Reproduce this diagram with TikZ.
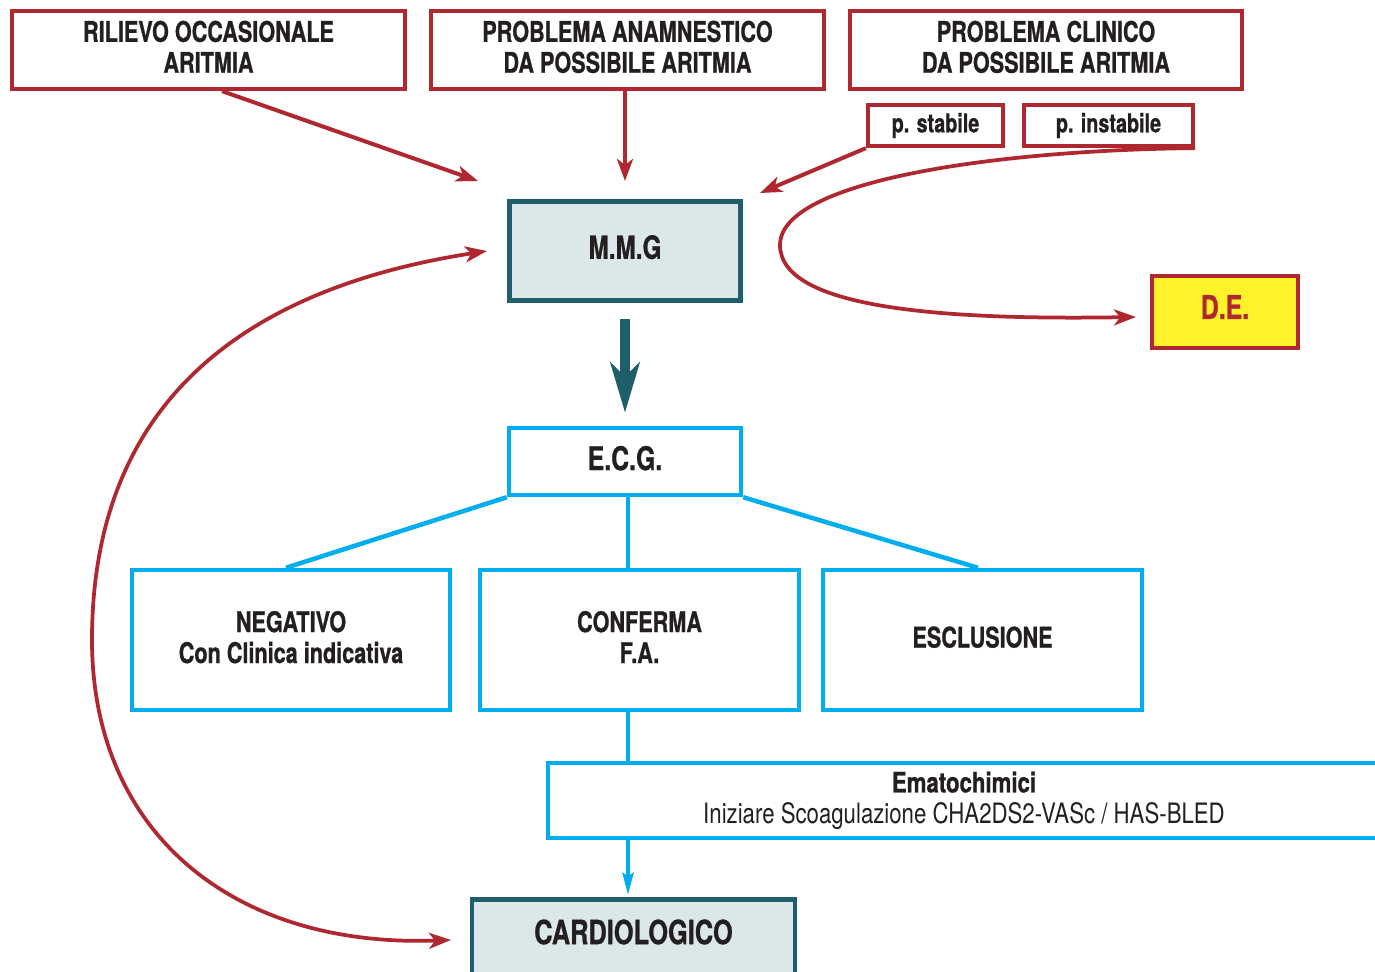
\documentclass[tikz,border=0pt]{standalone}
\usepackage{fontspec}
\setmainfont{TeX Gyre Heros}[FakeStretch=0.76, BoldFeatures={FakeBold=0.8}]
\newfontfamily\widefont{TeX Gyre Heros}[FakeStretch=0.79, BoldFeatures={FakeBold=0.8}]
\usetikzlibrary{arrows.meta}
\definecolor{myred}{RGB}{176,40,47}
\definecolor{myteal}{RGB}{31,95,107}
\definecolor{mmgfill}{RGB}{220,231,233}
\definecolor{mycyan}{RGB}{0,174,239}
\definecolor{myyellow}{RGB}{255,242,43}
\definecolor{txt}{RGB}{35,31,32}
\begin{document}
\begin{tikzpicture}[x=0.02cm,y=-0.02cm,
  redbox/.style={draw=myred, line width=0.085cm, fill=white, text=txt, align=center, inner sep=0pt,
    font=\bfseries\fontsize{16.2}{17.6}\selectfont},
  smallred/.style={redbox, font=\bfseries\fontsize{14.8}{16}\selectfont, minimum height=0.82cm},
  tealbox/.style={draw=myteal, line width=0.09cm, fill=mmgfill, text=txt, align=center, inner sep=0pt,
    font=\bfseries\fontsize{18.2}{20}\selectfont},
  cyanbox/.style={draw=mycyan, line width=0.09cm, fill=white, text=txt, align=center, inner sep=0pt,
    font=\bfseries\fontsize{16.2}{17.6}\selectfont},
  redarrow/.style={draw=myred, line width=0.08cm, -{Stealth[length=0.44cm,width=0.32cm,inset=0.12cm]}},
  redcurve/.style={draw=myred, line width=0.075cm},
  cyanline/.style={draw=mycyan, line width=0.09cm}
]
\useasboundingbox (0,0) rectangle (1375,972);

% top boxes
\node[redbox, minimum width=7.86cm, minimum height=1.56cm, text depth=0.13cm] (ril) at (208.5,50) {RILIEVO OCCASIONALE\\ARITMIA};
\node[redbox, minimum width=7.86cm, minimum height=1.56cm, text depth=0.13cm] (ana) at (627.5,50) {PROBLEMA ANAMNESTICO\\DA POSSIBILE ARITMIA};
\node[redbox, minimum width=7.84cm, minimum height=1.56cm, text depth=0.13cm] (cli) at (1046,50) {PROBLEMA CLINICO\\DA POSSIBILE ARITMIA};
\node[smallred, minimum width=2.7cm] (pst) at (935.5,125.5) {p. stabile};
\node[smallred, minimum width=3.38cm] (pin) at (1108.5,125.5) {p. instabile};

% MMG and DE
\node[tealbox, minimum width=4.62cm, minimum height=1.98cm, text depth=0.16cm] (mmg) at (625,251) {M.M.G};
\node[redbox, fill=myyellow, text=myred, minimum width=2.92cm, minimum height=1.44cm, text depth=0.2cm,
  font=\bfseries\fontsize{18.6}{20}\selectfont] (de) at (1225,312) {D.E.};

% ECG level
\node[cyanbox, minimum width=4.64cm, minimum height=1.34cm, text depth=0.14cm, font=\bfseries\fontsize{18.6}{20}\selectfont] (ecg) at (625,461.5) {E.C.G.};
\node[cyanbox, minimum width=6.36cm, minimum height=2.8cm, text depth=0.12cm] (neg) at (291,640) {NEGATIVO\\Con Clinica indicativa};
\node[cyanbox, minimum width=6.38cm, minimum height=2.8cm, text depth=0.12cm] (conf) at (639.5,640) {CONFERMA\\F.A.};
\node[cyanbox, minimum width=6.38cm, minimum height=2.8cm, text depth=0.12cm] (escl) at (982.5,640) {ESCLUSIONE};
\node[cyanbox, minimum width=16.64cm, minimum height=1.5cm, font=\widefont\fontsize{16}{17.6}\selectfont] (emato) at (964,800.5)
  {\textbf{Ematochimici}\\Iniziare Scoagulazione CHA2DS2-VASc / HAS-BLED};
\node[tealbox, minimum width=6.46cm, minimum height=2cm, anchor=north] (cardio) at (633.5,897) {};
\node[text=txt, font=\bfseries\fontsize{19}{21}\selectfont, inner sep=0pt] (cardiotxt) at ([yshift=-0.7cm]cardio.north) {CARDIOLOGICO};

% free ends
\coordinate (vx) at (628,0);
\coordinate (t1) at (478,181);
\coordinate (t2) at (625,181);
\coordinate (t3) at (760,193);
\coordinate (t4) at (1136,317);
\coordinate (t5) at (487,251);
\coordinate (t6) at (451,940);

% red arrows
\draw[redarrow] ([xshift=0.27cm]ril.south) -- (t1);
\draw[redarrow] (ana.south -| t2) -- (t2);
\draw[redarrow] (pst.south west) -- (t3);
\draw[redcurve, -{Stealth[length=0.44cm,width=0.32cm,inset=0.12cm]}] (pin.south east) .. controls (1000,150) and (780,180) .. (780,245)
   .. controls (780,310) and (950,320) .. (t4);
\draw[redcurve, {Stealth[length=0.44cm,width=0.32cm,inset=0.12cm]}-{Stealth[length=0.44cm,width=0.32cm,inset=0.12cm]}] (t5) .. controls (170,300) and (92,470) .. (92,640)
   .. controls (92,830) and (230,948) .. (t6);

% teal arrow
\draw[draw=myteal, fill=myteal, line width=0.2cm, -{Stealth[length=1cm,width=0.58cm,inset=0.28cm]}]
  ([yshift=-0.33cm]mmg.south) -- ([yshift=0.26cm]ecg.north);

% cyan connectors
\draw[cyanline] (ecg.south west) -- ([xshift=-0.1cm]neg.north);
\draw[cyanline] (ecg.south -| vx) -- (conf.north -| vx);
\draw[cyanline] (ecg.south east) -- ([xshift=-0.09cm]escl.north);
\draw[cyanline] (conf.south -| vx) -- (emato.north -| vx);
\draw[cyanline, line width=0.08cm, -{Stealth[length=0.44cm,width=0.22cm,inset=0.06cm]}] (emato.south -| vx) -- ([yshift=0.04cm]cardio.north -| vx);
\end{tikzpicture}
\end{document}
